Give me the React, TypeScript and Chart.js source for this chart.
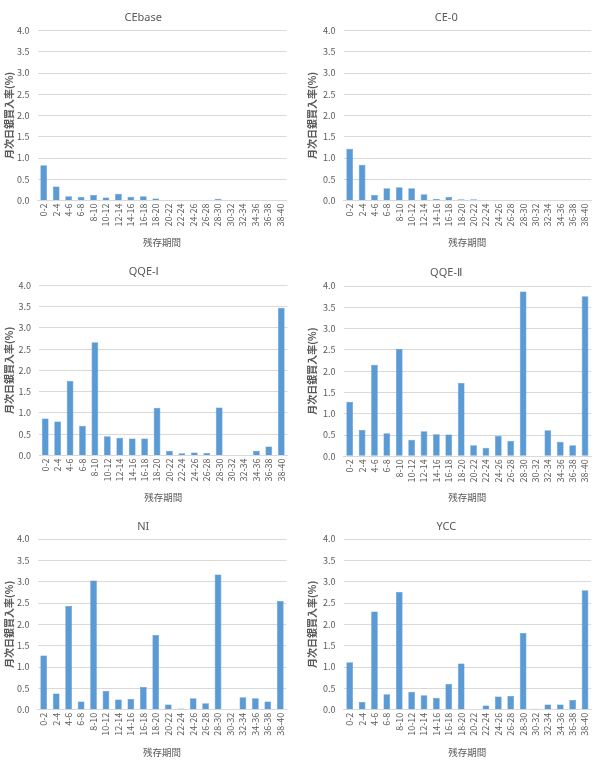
import React, { useEffect, useRef } from "react";
import { Chart, registerables } from "chart.js";

Chart.register(...registerables);

const categories = [
  "0-2", "2-4", "4-6", "6-8", "8-10", "10-12", "12-14", "14-16", "16-18", "18-20",
  "20-22", "22-24", "24-26", "26-28", "28-30", "30-32", "32-34", "34-36", "36-38", "38-40",
];

const ceBase = [0.83, 0.33, 0.10, 0.08, 0.13, 0.07, 0.16, 0.09, 0.10, 0.05, 0, 0, 0.01, 0, 0.04, 0, 0, 0, 0, 0];
const ce0 = [1.22, 0.84, 0.13, 0.29, 0.31, 0.29, 0.15, 0.04, 0.08, 0.03, 0.03, 0.01, 0.01, 0, 0.01, 0, 0, 0, 0, 0];
const qqe1 = [0.87, 0.80, 1.75, 0.70, 2.66, 0.45, 0.42, 0.40, 0.40, 1.12, 0.11, 0.05, 0.07, 0.06, 1.13, 0, 0, 0.11, 0.21, 3.47];
const qqe2 = [1.28, 0.62, 2.15, 0.54, 2.52, 0.39, 0.59, 0.52, 0.51, 1.72, 0.26, 0.20, 0.48, 0.36, 3.87, 0, 0.61, 0.34, 0.26, 3.76];
const ni = [1.27, 0.38, 2.43, 0.19, 3.03, 0.44, 0.24, 0.25, 0.53, 1.75, 0.12, 0.03, 0.27, 0.15, 3.17, 0, 0.29, 0.27, 0.19, 2.55];
const ycc = [1.11, 0.18, 2.30, 0.36, 2.76, 0.42, 0.34, 0.28, 0.60, 1.08, 0.01, 0.10, 0.31, 0.32, 1.80, 0.02, 0.12, 0.12, 0.23, 2.80];

const titles = ["CEbase", "CE-0", "QQE-Ⅰ", "QQE-Ⅱ", "NI", "YCC"];
const yAxisTitle = "月次日銀買入率(%)";
const xAxisTitle = "残存期間";
const yMin = 0;
const yMax = 4;
const yStep = 0.5;

const FONT = "'Noto Sans CJK JP', 'Noto Sans', sans-serif";
const TITLE_FONT = "'Noto Sans', 'DejaVu Sans', 'Noto Sans CJK JP', sans-serif";
const TEXT = "#595959";

type Layout = {
  left: number; top: number; width: number; height: number;
  plotLeft: number; plotRight: number; plotTop: number; plotBottom: number;
  titleY: number; xTitleY: number; yTitleX: number;
};

function Panel({ title, values, lay }: { title: string; values: number[]; lay: Layout }) {
  const ref = useRef<HTMLCanvasElement>(null);
  useEffect(() => {
    const titleSize = 11;
    const titleLH = titleSize * 1.2;
    const titlePadTop = lay.titleY - titleLH / 2;
    const titlePadBottom = lay.plotTop - titlePadTop - titleLH;
    const xTitleSize = 9.5;
    const xTitleLH = xTitleSize * 1.2;
    const yTitleSize = 10;
    const yTitleLH = yTitleSize * 1.2;
    const chart = new Chart(ref.current!, {
      type: "bar",
      data: {
        labels: categories,
        datasets: [{
          data: values,
          backgroundColor: "#5b9bd5",
          borderColor: "#4a8ac4",
          borderWidth: 0.5,
          barPercentage: 0.54,
          categoryPercentage: 1,
        }],
      },
      options: {
        responsive: false,
        animation: false,
        layout: { padding: { left: 0, top: 0, right: lay.width - lay.plotRight, bottom: 0 } },
        plugins: {
          legend: { display: false },
          tooltip: { enabled: false },
          title: {
            display: true,
            text: title,
            color: TEXT,
            font: { family: TITLE_FONT, size: titleSize, weight: "normal" },
            padding: { top: titlePadTop, bottom: titlePadBottom },
          },
        },
        scales: {
          x: {
            grid: { display: false, drawTicks: false },
            border: { display: true, color: "#d9d9d9" },
            ticks: {
              color: TEXT,
              font: { family: FONT, size: 9 },
              maxRotation: 90,
              minRotation: 90,
              padding: 3,
              autoSkip: false,
            },
            title: {
              display: true,
              text: xAxisTitle,
              color: TEXT,
              font: { family: FONT, size: xTitleSize },
              padding: { top: 0, bottom: lay.height - lay.xTitleY - xTitleLH / 2 },
            },
            afterFit: (s: any) => { s.height = lay.height - lay.plotBottom; },
          },
          y: {
            min: yMin,
            max: yMax,
            grid: { color: "#d9d9d9", drawTicks: false },
            border: { display: false },
            ticks: {
              stepSize: yStep,
              color: TEXT,
              font: { family: FONT, size: 9 },
              padding: 8,
              callback: (v: any) => Number(v).toFixed(1),
            },
            title: {
              display: true,
              text: yAxisTitle,
              color: TEXT,
              font: { family: FONT, size: yTitleSize, weight: "bold" },
              padding: { top: lay.yTitleX - yTitleLH / 2, bottom: 0 },
            },
            afterFit: (s: any) => { s.width = lay.plotLeft; },
          },
        },
      },
    });
    return () => chart.destroy();
  }, [title, values, lay]);
  return (
    <canvas
      ref={ref}
      width={lay.width}
      height={lay.height}
      style={{ position: "absolute", left: lay.left, top: lay.top, width: lay.width, height: lay.height }}
    />
  );
}

const layouts: Layout[] = [
  { left: 0, top: 0, width: 299, height: 256, plotLeft: 37.5, plotRight: 286.5, plotTop: 30.5, plotBottom: 200.5, titleY: 18.3, xTitleY: 242.7, yTitleX: 9.5 },
  { left: 300, top: 0, width: 299, height: 256, plotLeft: 43.5, plotRight: 292.5, plotTop: 30.5, plotBottom: 200.5, titleY: 18.3, xTitleY: 242.7, yTitleX: 12.7 },
  { left: 0, top: 256, width: 299, height: 256, plotLeft: 39, plotRight: 287.5, plotTop: 29.3, plotBottom: 199.5, titleY: 16, xTitleY: 241.7, yTitleX: 9.5 },
  { left: 300, top: 256, width: 299, height: 256, plotLeft: 43.5, plotRight: 292.5, plotTop: 30, plotBottom: 200.3, titleY: 16.5, xTitleY: 241.7, yTitleX: 12.7 },
  { left: 0, top: 512, width: 299, height: 256, plotLeft: 37.5, plotRight: 286.5, plotTop: 27, plotBottom: 197.7, titleY: 15, xTitleY: 240, yTitleX: 9.5 },
  { left: 300, top: 512, width: 299, height: 256, plotLeft: 43.5, plotRight: 292.5, plotTop: 27, plotBottom: 197.7, titleY: 15, xTitleY: 240, yTitleX: 12.7 },
];

const seriesList = [ceBase, ce0, qqe1, qqe2, ni, ycc];

export default function App() {
  return (
    <div style={{ position: "absolute", left: 0, top: 0, width: 599, height: 768, background: "#fff" }}>
      {seriesList.map((vals, i) => (
        <Panel key={i} title={titles[i]} values={vals} lay={layouts[i]} />
      ))}
    </div>
  );
}
